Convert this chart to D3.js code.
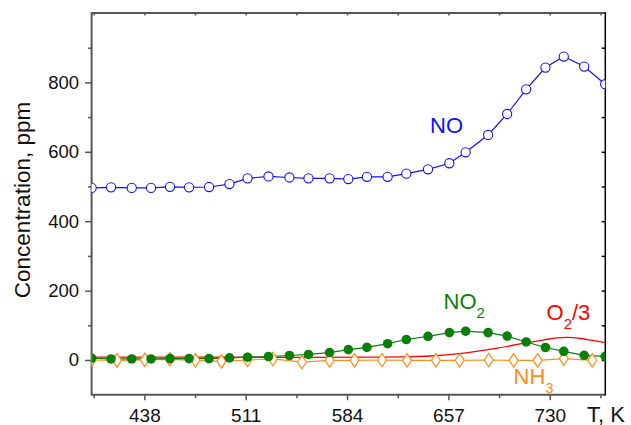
<!DOCTYPE html>
<html>
<head>
<meta charset="utf-8">
<script src="https://cdn.jsdelivr.net/npm/d3@7"></script>
<style>
  html, body { margin: 0; padding: 0; background: #fff; }
  svg { display: block; font-family: "Liberation Sans", Arial, Helvetica, sans-serif; }
</style>
</head>
<body>
<svg id="chart" width="631" height="425"></svg>
<script>
// Temperatures (K) at which NO and NO2 were sampled (marked points)
const tempMarked = [400, 414, 428.9, 442.8, 456.5, 470.2, 484.6, 499.3, 512.3, 527.4, 542.5,
  556.2, 571.4, 584.9, 598.3, 613.2, 626.7, 642.3, 657.7, 669.4, 685.6, 699.3, 713, 726.9,
  740.1, 754.8, 769.9];
// NO concentration, ppm
const noValues = [496, 497.5, 496, 496, 499, 497.5, 498.5, 507, 523.5, 529, 526, 523.5, 523.5,
  521.5, 528, 528, 537, 549.5, 567, 598.5, 648.5, 709, 780, 842.7, 874.5, 845.6, 794.8];
// NO2 concentration, ppm
const no2Values = [5, 3, 3, 3, 4, 4, 4, 6, 8, 10, 13, 16, 21.5, 30, 36.5, 47, 59, 68, 79, 83,
  79, 69, 52, 36, 25, 13.5, 10.5];

// NH3 sampled at its own temperatures
const tempNH3 = [400, 418.3, 438.3, 456.3, 474.8, 493.5, 512.3, 530.6, 551.5, 571.4, 589.4,
  609.2, 627.2, 648, 665.1, 686, 704, 721.3, 740.1, 760.6];
const nh3Values = [0, -1, 0.5, 2, -1, -4, 0, 3, -6, -1, -1, 0, -1, -1, -1, 0, -1, -1, 4, -1];

// O2 (divided by 3), smooth trace
const tempO2 = [400, 450, 500, 550, 600, 630, 644, 668, 690, 714, 726, 735, 742, 752, 760, 770];
const o2Values = [8, 8, 8, 7.5, 8, 9.5, 11.5, 20, 33, 50, 58, 63.5, 65, 62, 57, 50];

// Axis ticks
const xMajorTicks = [438, 511, 584, 657, 730];
const xMinorTicks = [401.5, 474.5, 547.5, 620.5, 693.5, 766.5];
const yMajorTicks = [0, 200, 400, 600, 800];
const yMinorTicks = [100, 300, 500, 700, 900];

const svg = d3.select("#chart");
const plotLeft = 91.6, plotRight = 605.3, plotTop = 13, plotBottom = 394.7;

const x = d3.scaleLinear().domain([400, 770]).range([plotLeft, plotRight]);
const y = d3.scaleLinear().domain([-100, 1000]).range([plotBottom, plotTop]);

const axisColor = "#555";

// clip region for the plotted data
svg.append("defs").append("clipPath").attr("id", "plot-clip")
  .append("rect").attr("x", plotLeft).attr("y", plotTop)
  .attr("width", plotRight - plotLeft).attr("height", plotBottom - plotTop);

function styleAxis(g, color) {
  g.select(".domain").remove();
  g.selectAll(".tick line").attr("stroke", color).attr("stroke-width", 1.5);
  g.selectAll(".tick text").attr("fill", "#111");
}

// bottom axis: major ticks with labels, minor ticks
svg.append("g").attr("transform", `translate(0,${plotBottom})`)
  .call(d3.axisBottom(x).tickValues(xMajorTicks).tickSize(5.5)
    .tickFormat(d3.format("d")))
  .call(g => styleAxis(g, axisColor))
  .call(g => g.selectAll(".tick text").attr("font-size", 19).attr("y", 27.5).attr("dy", 0));
svg.append("g").attr("transform", `translate(0,${plotBottom})`)
  .call(d3.axisBottom(x).tickValues(xMinorTicks).tickSize(3.5).tickFormat(""))
  .call(g => styleAxis(g, axisColor));

// left axis
svg.append("g").attr("transform", `translate(${plotLeft},0)`)
  .call(d3.axisLeft(y).tickValues(yMajorTicks).tickSize(6.5).tickPadding(6)
    .tickFormat(d3.format("d")))
  .call(g => styleAxis(g, axisColor))
  .call(g => g.selectAll(".tick text").attr("font-size", 18.5));
svg.append("g").attr("transform", `translate(${plotLeft},0)`)
  .call(d3.axisLeft(y).tickValues(yMinorTicks).tickSize(3.5).tickFormat(""))
  .call(g => styleAxis(g, axisColor));

// top axis, inward ticks
svg.append("g").attr("transform", `translate(0,${plotTop})`)
  .call(d3.axisTop(x).tickValues(xMajorTicks.concat(xMinorTicks)).tickSize(-2.5).tickFormat(""))
  .call(g => styleAxis(g, axisColor));

// right axis, inward ticks
svg.append("g").attr("transform", `translate(${plotRight},0)`)
  .call(d3.axisRight(y).tickValues(yMajorTicks.concat(yMinorTicks)).tickSize(-3.5).tickFormat(""))
  .call(g => styleAxis(g, "#000"));

// frame
const frame = svg.append("g").attr("fill", "none");
frame.append("line").attr("x1", plotLeft).attr("x2", plotLeft).attr("y1", plotTop - 0.75).attr("y2", plotBottom + 0.75)
  .attr("stroke", axisColor).attr("stroke-width", 2);
frame.append("line").attr("x1", plotLeft).attr("x2", plotRight).attr("y1", plotBottom).attr("y2", plotBottom)
  .attr("stroke", axisColor).attr("stroke-width", 2);
frame.append("line").attr("x1", plotLeft).attr("x2", plotRight).attr("y1", plotTop).attr("y2", plotTop)
  .attr("stroke", axisColor).attr("stroke-width", 2);
frame.append("line").attr("x1", plotRight).attr("x2", plotRight).attr("y1", plotTop - 0.75).attr("y2", plotBottom + 0.75)
  .attr("stroke", "#000").attr("stroke-width", 1.5);

// axis titles
svg.append("text")
  .attr("transform", `translate(30,200) rotate(-90)`)
  .attr("text-anchor", "middle")
  .attr("font-size", 22.5).attr("fill", "#111")
  .text("Concentration, ppm");
svg.append("text")
  .attr("x", 587).attr("y", 421.5)
  .attr("font-size", 22).attr("fill", "#111")
  .text("T, K");

// data
const plot = svg.append("g").attr("clip-path", "url(#plot-clip)");

const colors = { no: "#1010ff", no2: "#0a800a", o2: "#ff0000", nh3: "#ff8c1a" };

const lineGen = d3.line().x(d => x(d[0])).y(d => y(d[1]));
const smoothGen = d3.line().x(d => x(d[0])).y(d => y(d[1])).curve(d3.curveMonotoneX);

const noData = d3.zip(tempMarked, noValues);
const no2Data = d3.zip(tempMarked, no2Values);
const nh3Data = d3.zip(tempNH3, nh3Values);
const o2Data = d3.zip(tempO2, o2Values);

// NH3 line
plot.append("path").datum(nh3Data).attr("d", lineGen)
  .attr("fill", "none").attr("stroke", colors.nh3).attr("stroke-width", 1.2);
// O2/3 line
plot.append("path").datum(o2Data).attr("d", smoothGen)
  .attr("fill", "none").attr("stroke", colors.o2).attr("stroke-width", 1.3);
// NO2 line
plot.append("path").datum(no2Data).attr("d", lineGen)
  .attr("fill", "none").attr("stroke", colors.no2).attr("stroke-width", 1.2);
// NO line
plot.append("path").datum(noData).attr("d", lineGen)
  .attr("fill", "none").attr("stroke", colors.no).attr("stroke-width", 1.2);

// NH3 open diamonds
const diamond = d3.symbol().type(d3.symbolDiamond).size(52);
plot.append("g").selectAll("path").data(nh3Data).join("path")
  .attr("d", diamond)
  .attr("transform", d => `translate(${x(d[0])},${y(d[1])}) scale(1.15,1)`)
  .attr("fill", "#fff").attr("stroke", colors.nh3).attr("stroke-width", 1.1);

// NO2 filled circles
plot.append("g").selectAll("circle").data(no2Data).join("circle")
  .attr("cx", d => x(d[0])).attr("cy", d => y(d[1])).attr("r", 4.8)
  .attr("fill", colors.no2);

// NO open circles
plot.append("g").selectAll("circle").data(noData).join("circle")
  .attr("cx", d => x(d[0])).attr("cy", d => y(d[1])).attr("r", 4.6)
  .attr("fill", "#fff").attr("stroke", colors.no).attr("stroke-width", 1.1);

// series labels
function label(xp, yp, color, main, sub, tail) {
  const t = svg.append("text").attr("x", xp).attr("y", yp)
    .attr("font-size", 22).attr("fill", color);
  t.append("tspan").text(main);
  if (sub) {
    t.append("tspan").attr("font-size", 15).attr("dy", 9).text(sub);
    if (tail) t.append("tspan").attr("dy", -9).text(tail);
  }
}
label(430, 132.7, colors.no, "NO");
label(443.5, 308.5, colors.no2, "NO", "2");
label(546.5, 319.5, colors.o2, "O", "2", "/3");
label(513.5, 383.5, colors.nh3, "NH", "3");
</script>
</body>
</html>
